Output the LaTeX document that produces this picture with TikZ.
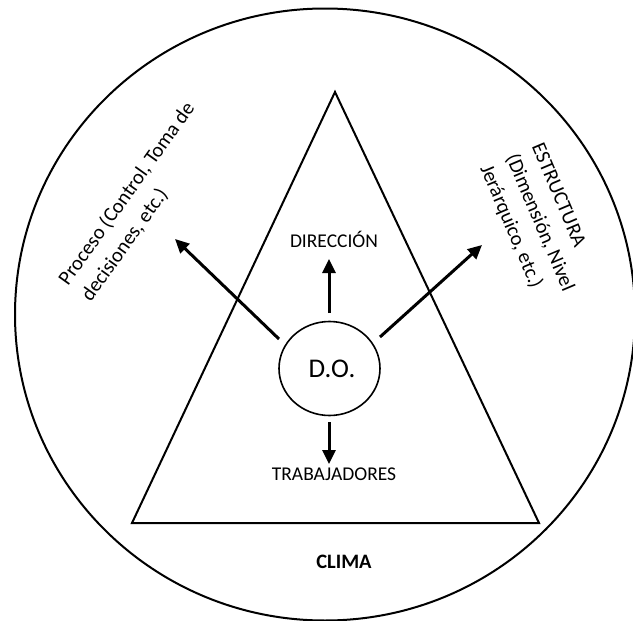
\documentclass[tikz,border=0pt]{standalone}
\usepackage{fontspec}
\setmainfont{Carlito}
\usetikzlibrary{arrows.meta,shapes.geometric}
\begin{document}
\begin{tikzpicture}[x=1pt,y=-1pt,
  outline/.style={draw=black,line width=2pt},
  push/.style={line width=3pt,-{Triangle[length=14pt,width=13pt]}},
  txt/.style={font=\fontsize{19.5}{27}\selectfont,inner sep=0pt},
  sidetext/.style={inner sep=0pt,align=left,anchor=north west,
                   font=\fontsize{20.5}{28}\selectfont},
]
\useasboundingbox (0,0) rectangle (633,621);
\clip (0,0) rectangle (633,621);

% outer climate circle
\draw[outline] (325,314.5) ellipse [x radius=310pt, y radius=306pt];

% organisation triangle
\coordinate (apex) at (335,92);
\coordinate (bl) at (132,523);
\coordinate (br) at (539,523);
\draw[outline,line join=miter] (apex) -- (br) -- (bl) -- cycle;

% central node
\node[draw,ellipse,line width=1.6pt,minimum width=101pt,minimum height=94pt,
      inner sep=0pt,font=\fontsize{27}{30}\selectfont] (do) at (329.5,368.5) {\hspace*{5pt}D.O.};

% arrow ends
\coordinate (upS) at (329,313);   \coordinate (upT) at (329,259);
\coordinate (dnS) at (329,422);   \coordinate (dnT) at (329,464);
\coordinate (lfS) at (279,339);   \coordinate (lfT) at (175,239);
\coordinate (rtS) at (380,337);   \coordinate (rtT) at (482,245);
\draw[push] (upS) -- (upT);
\draw[push] (dnS) -- (dnT);
\draw[push] (lfS) -- (lfT);
\draw[push] (rtS) -- (rtT);

% labels
\node[txt,anchor=base] (dir) at (334,247) {DIRECCIÓN};
\node[txt,anchor=base] (trab) at (334,480) {TRABAJADORES};
\node[txt,anchor=base,font=\fontsize{20.5}{27}\selectfont\bfseries] (clima) at (344,568) {CLIMA};

\node[sidetext,rotate=54.5] (proc) at (55.7,277.8)
  {Proceso (Control, Toma de\\decisiones, etc.)};
\node[sidetext,rotate=-67] (estr) at (544,141)
  {ESTRUCTURA\\(Dimensión, Nivel\\Jerárquico, etc.)};
\end{tikzpicture}
\end{document}
